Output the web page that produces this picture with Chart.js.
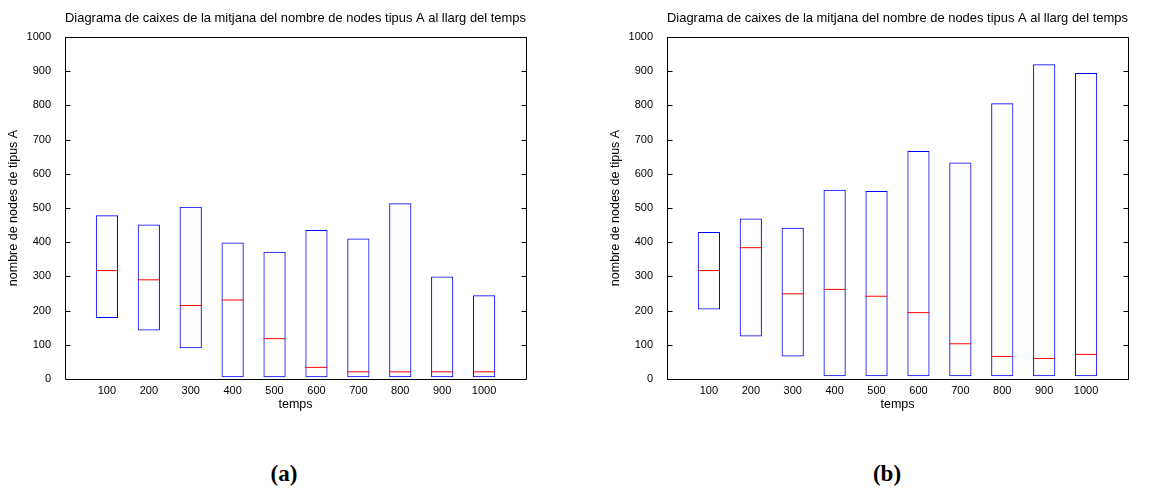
<!DOCTYPE html>
<html>
<head>
<meta charset="utf-8">
<script src="https://cdn.jsdelivr.net/npm/chart.js@4.4.1/dist/chart.umd.min.js"></script>
<style>
  html, body { margin: 0; padding: 0; background: #fff; }
  body { width: 1151px; height: 492px; overflow: hidden; position: relative; }
  .panel { position: absolute; top: 0; height: 420px; }
  #panelA { left: 0; width: 560px; }
  #panelB { left: 602px; width: 549px; }
  .cap { position: absolute; top: 461px; transform: translateX(-50%);
         font: bold 23px "Liberation Serif", "DejaVu Serif", serif; color: #000; }
</style>
</head>
<body>
<div class="panel" id="panelA"><canvas id="chartA" width="560" height="420"></canvas></div>
<div class="panel" id="panelB"><canvas id="chartB" width="549" height="420"></canvas></div>
<div class="cap" style="left:284px">(a)</div>
<div class="cap" style="left:887px">(b)</div>
<script>
// Time steps on the x axis
const temps = ['100', '200', '300', '400', '500', '600', '700', '800', '900', '1000'];

// (a) box bottoms, tops and medians
const aBottom = [178, 142, 90, 5, 5, 5, 5, 5, 5, 5];
const aTop    = [479, 452, 504, 399, 372, 436, 411, 514, 300, 245];
const aMedian = [317, 290, 215, 231, 118, 34, 21, 21, 21, 21];

// (b) box bottoms, tops and medians
const bBottom = [203, 124, 66, 8, 8, 8, 8, 8, 8, 8];
const bTop    = [430, 469, 442, 553, 550, 667, 633, 806, 920, 895];
const bMedian = [317, 384, 249, 262, 242, 194, 103, 66, 60, 72];

const titleText = 'Diagrama de caixes de la mitjana del nombre de nodes tipus A al llarg del temps';
const yTitle = 'nombre de nodes de tipus A';
const xTitle = 'temps';

Chart.defaults.font.family = '"Liberation Sans", Arial, Helvetica, sans-serif';
Chart.defaults.font.size = 11;
Chart.defaults.color = '#000';

// Empty slots at both ends give the axis its margin on each side
const labels = [''].concat(temps, ['']);
const pad = arr => [null].concat(arr, [null]);

// Black frame round the plot area plus inward y ticks on both sides
const framePlugin = {
  id: 'frame',
  afterDraw(chart) {
    const { ctx, chartArea: a } = chart;
    const y = chart.scales.y;
    const L = Math.round(a.left) + 0.5, R = Math.round(a.right) + 0.5;
    const T = Math.round(a.top) + 0.5, B = Math.round(a.bottom) + 0.5;
    ctx.save();
    ctx.strokeStyle = '#000';
    ctx.lineWidth = 1;
    ctx.beginPath();
    ctx.rect(L, T, R - L, B - T);
    y.ticks.forEach(t => {
      const py = Math.round(y.getPixelForValue(t.value)) + 0.5;
      ctx.moveTo(L, py); ctx.lineTo(L + 5, py);
      ctx.moveTo(R, py); ctx.lineTo(R - 5, py);
    });
    ctx.stroke();
    ctx.restore();
  }
};

function makeChart(id, bottom, top, median, padRight) {
  const boxes = bottom.map((b, i) => [b, top[i]]);
  return new Chart(document.getElementById(id), {
    data: {
      labels,
      datasets: [
        {
          type: 'bar',
          data: pad(boxes),
          backgroundColor: 'rgba(0,0,0,0)',
          borderColor: '#0000ff',
          borderWidth: 1,
          borderSkipped: false,
          categoryPercentage: 0.53,
          barPercentage: 1,
          order: 2
        },
        {
          type: 'line',
          data: pad(median),
          showLine: false,
          pointStyle: 'line',
          pointRadius: 11,
          pointHoverRadius: 11,
          pointBorderColor: '#ff0000',
          pointBorderWidth: 1,
          pointHoverBorderWidth: 1,
          order: 1
        }
      ]
    },
    options: {
      responsive: false,
      animation: false,
      events: [],
      layout: { padding: { left: 0, right: padRight, top: 0, bottom: 0 } },
      plugins: {
        legend: { display: false },
        tooltip: { enabled: false },
        title: {
          display: true,
          text: titleText,
          fullSize: false,
          color: '#000',
          font: { size: 13.5, weight: 'normal' },
          padding: { top: 10, bottom: 10.8 }
        }
      },
      scales: {
        x: {
          type: 'category',
          offset: false,
          grid: { display: false, drawTicks: false },
          border: { display: false },
          ticks: { padding: 5, autoSkip: false, maxRotation: 0, color: '#000' },
          title: { display: true, text: xTitle, color: '#000', font: { size: 12.5 }, padding: { top: 0, bottom: 8 } },
          afterFit(s) { s.height = 41; }
        },
        y: {
          type: 'linear',
          min: 0,
          max: 1000,
          grid: { display: false, drawTicks: false },
          border: { display: false },
          ticks: { stepSize: 100, padding: 14, color: '#000', callback: v => String(v) },
          title: { display: true, text: yTitle, color: '#000', font: { size: 12.5 }, padding: { top: 6, bottom: 0 } },
          afterFit(s) { s.width = 65; }
        }
      }
    },
    plugins: [framePlugin]
  });
}

makeChart('chartA', aBottom, aTop, aMedian, 34);
makeChart('chartB', bBottom, bTop, bMedian, 23);
</script>
</body>
</html>
